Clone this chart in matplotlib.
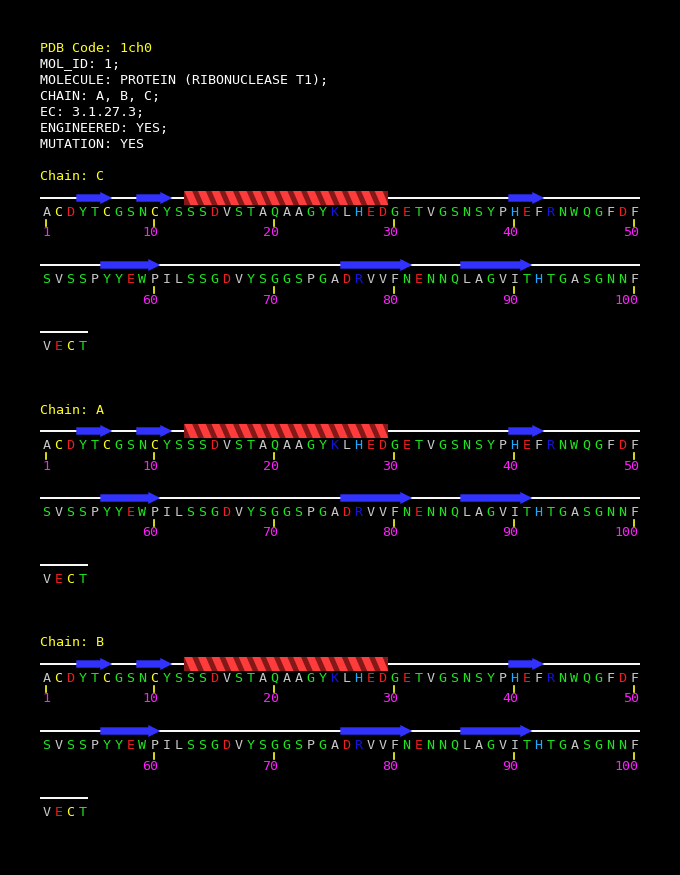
import matplotlib
matplotlib.use('Agg')
import matplotlib.pyplot as plt
from matplotlib.patches import Polygon, Rectangle

# header text
pdb_code = '1ch0'
header_lines = ['MOL_ID: 1;',
                'MOLECULE: PROTEIN (RIBONUCLEASE T1);',
                'CHAIN: A, B, C;',
                'EC: 3.1.27.3;',
                'ENGINEERED: YES;',
                'MUTATION: YES']

chains = ['C', 'A', 'B']
sequence = ('ACDYTCGSNCYSSSDVSTAQAAGYKLHEDGETVGSNSYPHEFRNWQGFDF'
            'SVSSPYYEWPILSSGDVYSGGSPGADRVVFNENNQLAGVITHTGASGNNF'
            'VECT')
first_res = 1

# secondary structure (residue ranges, inclusive) - same for all chains
strands = [(4, 6), (9, 11), (40, 42), (56, 60), (76, 81), (86, 91)]
helices = [(13, 29)]

res_colour = {}
for aa in 'AVLIPFM':
    res_colour[aa] = '#c8c8c8'
for aa in 'STGNQYW':
    res_colour[aa] = '#1ee61e'
for aa in 'DE':
    res_colour[aa] = '#f01e1e'
for aa in 'KR':
    res_colour[aa] = '#1414dc'
res_colour['H'] = '#1eaaff'
res_colour['C'] = '#ffff1e'

# layout (pixels)
W, H = 680, 875
x0 = 46.3       # centre of first residue in a row
dx = 12.0       # residue spacing
per_row = 50
row_gap = 67
block_gap = 233
fs = 9.6
font = 'DejaVu Sans Mono'

fig = plt.figure(figsize=(W / 100, H / 100), dpi=100)
fig.patch.set_facecolor('black')
ax = fig.add_axes([0, 0, 1, 1])
ax.set_xlim(0, W)
ax.set_ylim(H, 0)
ax.axis('off')
ax.set_facecolor('black')

def txt(x, y, s, c, ha='left'):
    ax.text(x, y, s, color=c, fontsize=fs, family=font, ha=ha, va='center')

txt(40, 48, 'PDB Code: ' + pdb_code, '#ffff1e')
for k, line in enumerate(header_lines):
    txt(40, 64 + 16 * k, line, 'white')

def res_pos(i, top):
    # i: 0-based residue index -> (x, line_y)
    row = i // per_row
    return x0 + (i % per_row) * dx, top + 21 + row * row_gap

def draw_strand(a, b, top):
    xa, y = res_pos(a - first_res, top)
    xb, _ = res_pos(b - first_res, top)
    xl, xr = xa - dx / 2, xb + dx / 2
    hl = 12
    pts = [(xl, y - 3.7), (xr - hl, y - 3.7), (xr - hl, y - 6), (xr, y),
           (xr - hl, y + 6), (xr - hl, y + 3.7), (xl, y + 3.7)]
    ax.add_patch(Polygon(pts, closed=True, fc='#3232ff', ec='none', zorder=3))

def draw_helix(a, b, top):
    xa, y = res_pos(a - first_res, top)
    xb, _ = res_pos(b - first_res, top)
    xl, xr = xa - dx / 2, xb + dx / 2
    h = 7
    ax.add_patch(Rectangle((xl, y - h), xr - xl, 2 * h, fc='#841818', ec='none', zorder=3))
    n = max(1, round((xr - xl) / 13.6))
    p = (xr - xl) / n
    for k in range(n):
        s = xl + k * p
        pts = [(s, y - h), (s + 0.58 * p, y - h), (min(s + 1.03 * p, xr), y + h), (s + 0.45 * p, y + h)]
        ax.add_patch(Polygon(pts, closed=True, fc='#ff3c3c', ec='none', zorder=4))

for b, ch in enumerate(chains):
    top = 177 + b * block_gap
    txt(40, top, 'Chain: ' + ch, '#ffff1e')
    n_rows = (len(sequence) + per_row - 1) // per_row
    for r in range(n_rows):
        seg = sequence[r * per_row:(r + 1) * per_row]
        xs, y = res_pos(r * per_row, top)
        xe, _ = res_pos(r * per_row + len(seg) - 1, top)
        ax.plot([xs - dx / 2 - 0.3, xe + dx / 2], [y, y], color='white', lw=1.4,
                solid_capstyle='butt', zorder=2)
    for i, aa in enumerate(sequence):
        x, y = res_pos(i, top)
        txt(x, y + 14.5, aa, res_colour.get(aa, 'white'), ha='center')
        num = i + first_res
        if num == 1 or num % 10 == 0:
            ax.plot([x, x], [y + 22, y + 28], color='#ffff1e', lw=1.2, zorder=2)
            txt(x + 4.3, y + 35, str(num), '#ff1eff', ha='right')
    for a, bb in strands:
        draw_strand(a, bb, top)
    for a, bb in helices:
        draw_helix(a, bb, top)

fig.savefig('out.png', dpi=100, facecolor='black')
